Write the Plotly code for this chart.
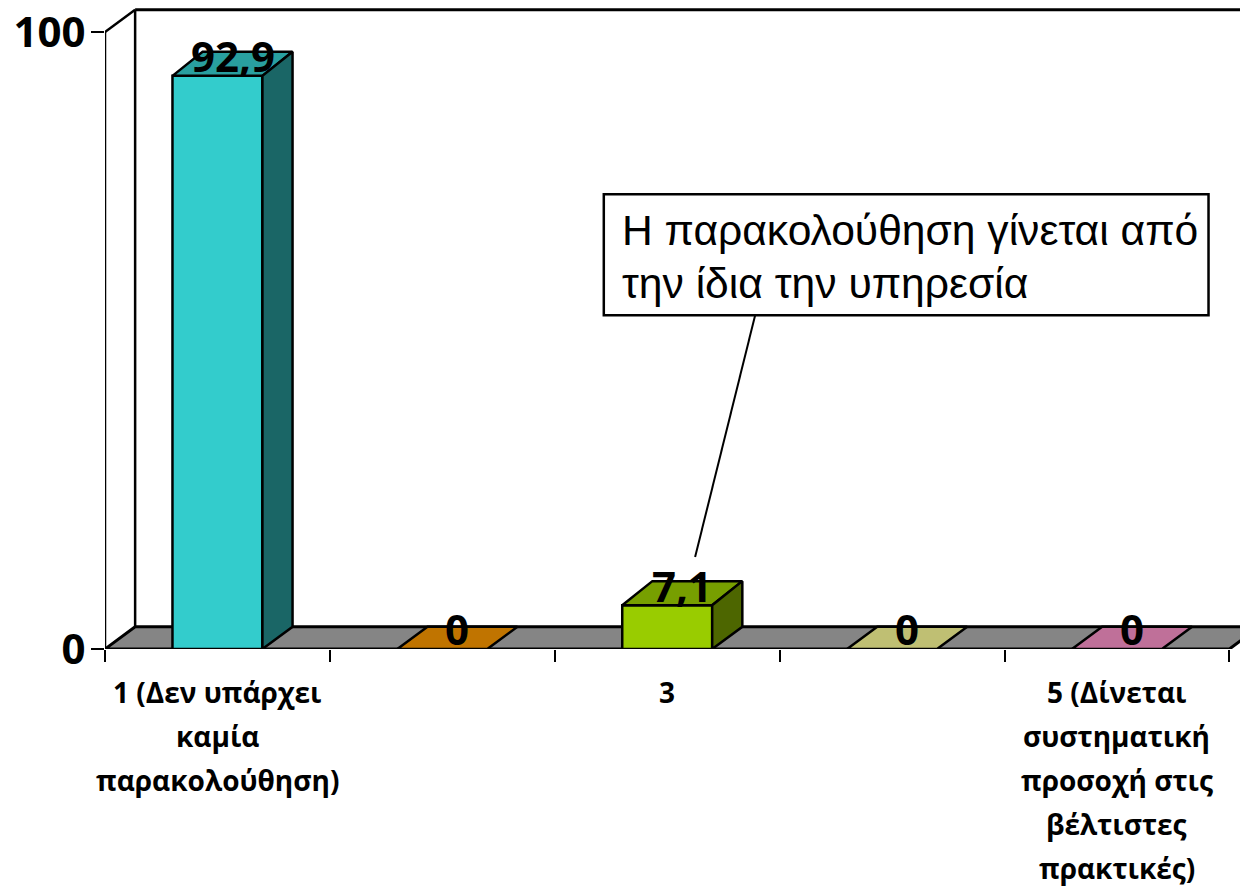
import plotly.graph_objects as go

categories = [0, 1, 2, 3, 4]
values = [92.9, 0, 7.1, 0, 0]
value_labels = ["92,9", "0", "7,1", "0", "0"]
front_colors = ["#33CCCC", "#C07400", "#99CC00", "#BFBF73", "#BF7099"]
top_colors = ["#299F9F", "#C07400", "#779F00", "#BFBF73", "#BF7099"]
side_colors = ["#1A6666", "#8A5500", "#4D6600", "#8F8F55", "#8F5272"]
category_lines = [
    ["1 (Δεν υπάρχει", "καμία", "παρακολούθηση)"],
    [],
    ["3"],
    [],
    ["5 (Δίνεται", "συστηματική", "προσοχή στις", "βέλτιστες", "πρακτικές)"],
]
callout_lines = ["Η παρακολούθηση γίνεται από", "την ίδια την υπηρεσία"]
callout_y = [67.9, 59.3]

# fake 3d depth, in axis units
dx = 0.134
dy = 3.6
bar_dy = 3.9
bar_width = 0.4
x_left = -0.5
x_right = 4.5
x_max = 4.547
y_max = 103.9

fig = go.Figure()

fig.add_trace(go.Bar(
    x=categories, y=values, width=bar_width,
    marker=dict(color=front_colors, line=dict(color="black", width=2.5)),
    hoverinfo="skip",
))

for cat, val, top, side in zip(categories, values, top_colors, side_colors):
    left = cat - bar_width / 2
    right = cat + bar_width / 2
    depth = bar_dy if val > 0 else dy
    # top face
    fig.add_trace(go.Scatter(
        x=[left, right, right + dx, left + dx, left],
        y=[val, val, val + depth, val + depth, val],
        mode="lines", fill="toself", fillcolor=top,
        line=dict(color="black", width=2.5), cliponaxis=False, hoverinfo="skip",
    ))
    # side face
    if val > 0:
        fig.add_trace(go.Scatter(
            x=[right, right + dx, right + dx, right, right],
            y=[0, dy, val + depth, val, 0],
            mode="lines", fill="toself", fillcolor=side,
            line=dict(color="black", width=2.5), cliponaxis=False, hoverinfo="skip",
        ))

# floor and walls
fig.add_shape(type="path", layer="below",
              path=f"M {x_left} 0 L {x_left + dx} {dy} L {x_right + dx} {dy} L {x_right} 0 Z",
              fillcolor="#858585", line=dict(color="black", width=3))
fig.add_shape(type="line", layer="below", x0=x_left, x1=x_left, y0=0, y1=100,
              line=dict(color="black", width=2.5))
fig.add_shape(type="line", layer="below", x0=x_left, x1=x_left + dx, y0=100, y1=100 + dy,
              line=dict(color="black", width=2.5))
fig.add_shape(type="line", layer="below", x0=x_left + dx, x1=x_left + dx, y0=dy, y1=100 + dy,
              line=dict(color="black", width=2.5))
fig.add_shape(type="line", layer="below", x0=x_left + dx, x1=x_max, y0=100 + dy, y1=100 + dy,
              line=dict(color="black", width=3))

# value labels, sit on the top face
for cat, val, label in zip(categories, values, value_labels):
    fig.add_annotation(x=cat + dx / 2, y=val + dy / 2, yshift=9, text=label, showarrow=False,
                       xanchor="center", yanchor="middle",
                       font=dict(family="Open Sans", size=42, color="black", weight="bold"))

# category labels, one annotation per line because of the wide line spacing
for cat, lines in zip(categories, category_lines):
    for i, line in enumerate(lines):
        fig.add_annotation(x=cat, y=0, yshift=-43 - 44 * i, text=line, showarrow=False,
                           xanchor="center", yanchor="middle",
                           font=dict(family="Open Sans", size=28, color="black", weight="bold"))

# callout
fig.add_shape(type="line", x0=2.391, x1=2.124, y0=54.1, y1=14.9, line=dict(color="black", width=2))
fig.add_shape(type="rect", x0=1.718, x1=4.407, y0=54.1, y1=73.7,
              fillcolor="white", line=dict(color="black", width=2.5))
for line, y in zip(callout_lines, callout_y):
    fig.add_annotation(x=1.79, y=y, text=line, showarrow=False, align="left",
                       xanchor="left", yanchor="middle",
                       font=dict(family="Liberation Sans", size=42.6, color="black"))

fig.update_layout(
    width=1240, height=888,
    margin=dict(l=104.5, r=0, t=8, b=238.5),
    plot_bgcolor="white", paper_bgcolor="white",
    showlegend=False,
    xaxis=dict(range=[x_left, x_max], tickvals=[-0.5, 0.5, 1.5, 2.5, 3.5, 4.5],
               showticklabels=False, ticks="outside", ticklen=12, tickwidth=2, tickcolor="black",
               showgrid=False, zeroline=False, showline=False),
    yaxis=dict(range=[0, y_max], tickvals=[0, 100], ticktext=["0", "100"],
               ticks="outside", ticklen=13, tickwidth=1.5, tickcolor="black", ticklabelstandoff=-3,
               tickfont=dict(family="Open Sans", size=42, color="black", weight="bold"),
               showgrid=False, zeroline=False, showline=False),
)

fig.write_html("out.html", config={"displayModeBar": False},
               post_script="document.body.style.margin='0';document.body.style.overflow='hidden';")
